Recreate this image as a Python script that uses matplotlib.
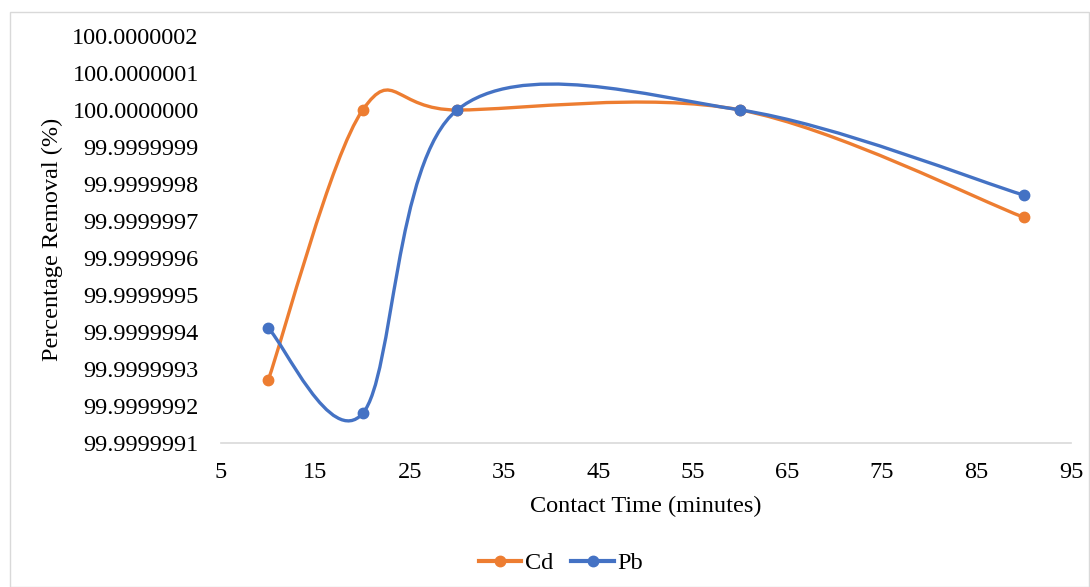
import numpy as np
import matplotlib
matplotlib.use("Agg")
import matplotlib.pyplot as plt
from matplotlib.path import Path
from matplotlib.patches import PathPatch, Rectangle
from matplotlib.lines import Line2D
from matplotlib.ticker import FuncFormatter

plt.rcParams['font.family'] = ['Liberation Serif', 'DejaVu Serif']

# contact time (minutes)
time = [10, 20, 30, 60, 90]
# percentage removal (%)
cd = [99.99999927, 100.0000000, 100.0000000, 100.0000000, 99.99999971]
pb = [99.99999941, 99.99999918, 100.0000000, 100.0000000, 99.99999977]
y_ticks = [99.9999991 + i * 1e-7 for i in range(12)]
x_ticks = list(range(5, 96, 10))

CD_COLOR = '#ED7D31'
PB_COLOR = '#4472C4'
FS = 17.5


def smooth_path(xs, ys):
    # excel-like smoothed line: cubic bezier through every point
    p = np.column_stack([xs, ys]).astype(float)
    n = len(p)
    verts = [p[0]]
    codes = [Path.MOVETO]
    for i in range(n - 1):
        p_prev = p[i - 1] if i > 0 else p[i]
        p_next2 = p[i + 2] if i + 2 < n else p[i + 1]
        c1 = p[i] + (p[i + 1] - p_prev) / 6
        c2 = p[i + 1] - (p_next2 - p[i]) / 6
        verts += [c1, c2, p[i + 1]]
        codes += [Path.CURVE4] * 3
    return Path(verts, codes)


fig = plt.figure(figsize=(10.9, 5.87), dpi=100)
ax = fig.add_axes([221 / 1090, (587 - 443) / 587, 850 / 1090, (443 - 36) / 587])

for ys, color, z in [(cd, CD_COLOR, 3), (pb, PB_COLOR, 4)]:
    ax.add_patch(PathPatch(smooth_path(time, ys), facecolor='none', edgecolor=color,
                           lw=2.4, capstyle='round', zorder=z))
    ax.plot(time, ys, 'o', color=color, ms=7.5, zorder=z + 0.5)

ax.set_xlim(5, 95)
ax.set_ylim(y_ticks[0], y_ticks[-1])
ax.set_xticks(x_ticks)
ax.set_yticks(y_ticks)
ax.yaxis.set_major_formatter(FuncFormatter(lambda v, pos: f"{v:.7f}"))
ax.tick_params(axis='both', length=0, labelsize=FS)
ax.tick_params(axis='x', pad=14)
ax.tick_params(axis='y', pad=16)

for side in ['top', 'right', 'left']:
    ax.spines[side].set_visible(False)
ax.spines['bottom'].set_color('#D9D9D9')
ax.spines['bottom'].set_linewidth(1.2)

ax.set_xlabel('Contact Time (minutes)', fontsize=FS, labelpad=9)
ax.set_ylabel('Percentage Removal (%)', fontsize=FS)
ax.yaxis.set_label_coords(-158 / 850, 0.5)

handles = [Line2D([], [], color=CD_COLOR, lw=3, marker='o', ms=7.5),
           Line2D([], [], color=PB_COLOR, lw=3, marker='o', ms=7.5)]
fig.legend(handles, ['Cd', 'Pb'], loc='center', bbox_to_anchor=(561 / 1090, 1 - 563 / 587),
           ncol=2, frameon=False, fontsize=FS, handlelength=1.75, handletextpad=0.15,
           columnspacing=0.75)

fig.patches.append(Rectangle((10 / 1090, 0), 1 - 11 / 1090, 1 - 12 / 587,
                             transform=fig.transFigure, fill=False, edgecolor='#D9D9D9', lw=1))

fig.savefig('out.png', dpi=100)
